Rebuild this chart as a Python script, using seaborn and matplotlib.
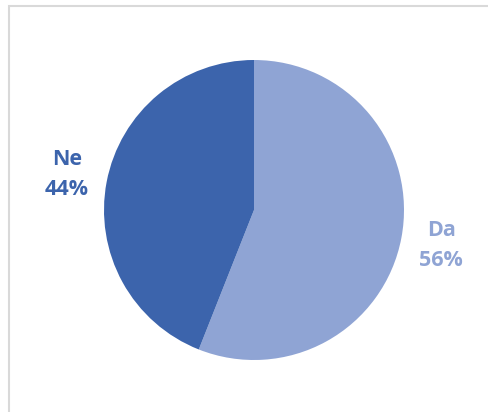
"""Pie chart: Da / Ne shares."""
import matplotlib
matplotlib.use('Agg')
import matplotlib.pyplot as plt
from matplotlib.patches import Rectangle
import seaborn as sns

# data
labels = ['Da', 'Ne']
shares = [56, 44]
colors = ['#8FA4D4', '#3C64AC']

sns.set_style('white')
plt.rcParams['font.family'] = ['Open Sans', 'DejaVu Sans']

fig = plt.figure(figsize=(4.89, 4.12), dpi=100)
ax = fig.add_axes([0, 0, 1, 1])

# light grey chart frame (runs off the right and bottom edges)
fig.patches.append(Rectangle((9 / 489, -0.05), 1.2, (412 - 6) / 412 + 0.05,
                             transform=fig.transFigure, fill=False,
                             edgecolor='#D9D9D9', linewidth=1.5))

texts = [f'{lab}\n{v}%' for lab, v in zip(labels, shares)]
wedges, label_texts = ax.pie(shares, labels=texts, colors=colors,
                             startangle=90, counterclock=False,
                             center=(254, 202), radius=150,
                             labeldistance=1.27, frame=True,
                             wedgeprops=dict(linewidth=0),
                             textprops=dict(fontsize=15.5, fontweight='bold',
                                            linespacing=1.6))
for t, c in zip(label_texts, colors):
    t.set_color(c)
    t.set_horizontalalignment('center')
    t.set_verticalalignment('center')

ax.set_xlim(0, 489)
ax.set_ylim(0, 412)
ax.axis('off')

fig.savefig('out.png', dpi=100)
